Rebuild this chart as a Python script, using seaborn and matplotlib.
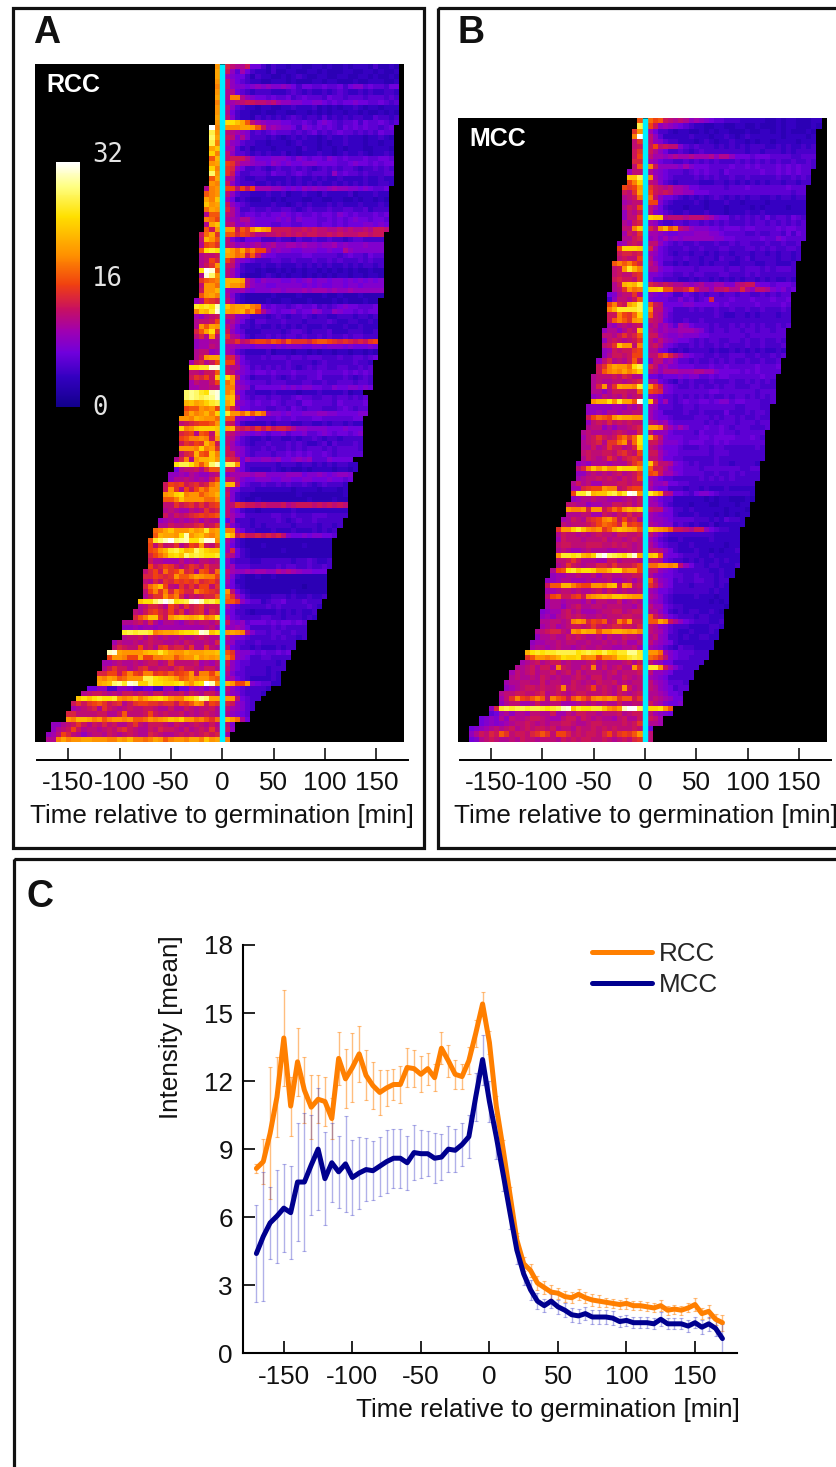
import numpy as np
import pandas as pd
import seaborn as sns
import matplotlib.pyplot as plt
from matplotlib.colors import LinearSegmentedColormap
from matplotlib.patches import Rectangle
from matplotlib.transforms import Affine2D

# each row: cells before germination | cells after, one base-33 digit per cell (0..w = 0..32)
rcc_rows = [
"k|ecbbd77535443443344343343444353343",
"l|d96a754435334433443433344334434334",
"l|a877535443343454334433443344343343",
"k|c976544334443433344344333433444334",
"j|c988789898898757766766757886766577",
"k|bb76545554445654544545654454544554",
"l|bjjb987767667567666576656665666565",
"j|aabcddccbca99887788767677877667656",
"k|c965443443344544453434344543443444",
"k|b754433433443344343434434434334343",
"l|c854435454545654554645454554465545",
"k|ppnlhca988877667657876566757667656",
"wj|kkkllkhd9a98875876767657676766567",
"rk|cba985656766656567565676656565766",
"sl|dc8b85554543454544345445444344543",
"rj|b98655443444345444343445444344344",
"ln|aa6453444344443544344343444334443",
"oj|c96654545445343444544345445434454",
"hm|cdddb9777888768767768767666766776",
"kl|gfcaa9887987877888777766787767677",
"oj|fe9755654565565654565656654556565",
"sk|fd7556665766567656665967665655566",
"hl|bb6544554444545445454454444544544",
"kj|d96555445454545454544545454544554",
"bjk|ggcgdgaaa998787989889a9988787667",
"hjk|c9655444544534454435444453444544",
"ljn|a7454334434344433443344334344343",
"nkl|d9765444454434545444545444544454",
"ilk|eb855655655665456555655665564555",
"bhh|cb867767677876766767768767666767",
"jig|ba9bb877778786877766767678776776",
"bln|cc99a877766776677767767677788787",
"hdk|kkdhfknlkddddccdcdccbbcbcbbcbddc",
"dilf|hhegfdbbccdcdcdcddccdcdcccddcdd",
"cmkh|c865777555655465565565545665555",
"bghf|cb9a9ab9ab99aa9a99899a898889888",
"hpqp|mkilhjggb89887788877877b9888888",
"bccd|lkijdhc877666667766666567665766",
"bcge|gd98765556655655565565655565655",
"bdfk|dc85444544544454545454454545545",
"pwvh|ca75443433434343443434343433433",
"bvsk|ca74333454343443434343443443443",
"fhij|mmmlb97988877878978878878787878",
"ckki|mkkjb98877888887878778878878888",
"dkkm|a99a87888998999a9aaa9a99a999999",
"hklj|b854333334333343333433433343333",
"9bgfe|c95433334334433343333434333433",
"qpqpu|nkllmji76766567667565678776667",
"jnmqv|lklmikgb8767786779866987767677",
"a9bcd|cc9875554565455654554455545545",
"bccdg|ab9754665556555455556544554454",
"bkhlk|ca7554544545454544454445445444",
"ehlpf|d97644455554566545556444555445",
"cebkc|fba754556565665655656556566555",
"9aabb|ddfcdfggfhgehfffeghhgfefededfg",
"9aacb|aa9887888787888778878887877787",
"bcc9a|a96544445344434434344344344343",
"bdkll|eea755565666566566655565566567",
"adebdg|gga76555555565555456555556554",
"ppqqvv|dbb87565656565456566556655656",
"ccbddh|dc987677676667666676666767676",
"dfegdn|pkc76455565456556675555654565",
"acbbdg|ik987666566655566556556665665",
"aabbcc|jja98577777878788776687788787",
"stsqpuv|jl9755444544443444544445344",
"stsrstv|mnc7656656655676655665665656",
"mnlmoqr|ln98767667656657766665766667",
"ghhkjkg|iea7766655665765666555676566",
"iljkmjo|qkkilhki98878778889988777788",
"kkjmlkki|hh9877666676676667766666677",
"cdefgghk|dd8544445455544554454554544",
"ojknooon|lmededfdfdeedb9988887778777",
"efgbhgcm|dca987876778677866787677678",
"ghjjkjdk|cb8654454554454556545545555",
"dfegfmjd|ca7654556555656544564655565",
"kkkjojkf|da9865565655656566656566665",
"cefmhgnj|dd9865666566767676676566666",
"bejbkmmnk|fed7a88998977898966687777",
"prrplhlsu|rrk75555554555455454545544",
"7bccdbehh|dd975444454343343444434434",
"99a9ba99bc|9aaaa9aa88889997889878998",
"9bbcbabadg|cca8778887788778877787767",
"dgfgdefdeik|mmc765565565655654565554",
"dkfbgdgjhkk|c87555444444434444344434",
"klopjkkhjkm|d85443333333334333333334",
"hhjnkkkkiik|c85433433333333343333433",
"ccfdefdfdfg|ccfeddcdcccdbcdddcdcdcdc",
"bcbaacbcfde|c97544344444454444444444",
"dbdcdefgfgh|ca8755555665565556665555",
"9abababcacbb|7a555455556545655655555",
"bbdccddefcdf|c8655454555554555545545",
"ijlnkkkmklqkl|jj97554445444544454545",
"hmllkpukmnkjl|pmdfddededec8778788776",
"hqsuwstuppsvvk|b85433333333333333333",
"gcfcdfbdgfkdcf|a75433343333333433333",
"ghkmqrpmnsqonn|ae7543333334333333333",
"egikopnsqrqppq|cb7543333333333333333",
"dbbaaacabaccbc|965554455555545565445",
"gdegfdbdfecfdd|9a6665555565665565565",
"cegdifgjefbhgdi|ca99a9aa99baba988777",
"eegfefkhhjlkjjg|b8543343343333333333",
"cbecfegfgfhefge|a7443333333333333333",
"eikngcbfdfdggcf|97543333333333323333",
"cgjfjeigeejhgfe|kc754333333334333333",
"bdffkhjebdcdeeh|ifa75444455545445445",
"nppsuwupqrvwuqrp|hhf9766456675556555",
"bceedbgecfdefcdd|a765555565655555654",
"cbdfgedgdfbdefbed|875543444454545445",
"ehjnnfdkmnmlmojkp|a76555566554555454",
"bbcdbeb9bba9bcbccbd|d989677767677676",
"99a9aa9aaaaaaaaabca|a9a9755556565555",
"qrqrrqjkllmoppqvunp|klkjb86656655655",
"bccdbdcbcbbcbbcdcbb|c987655556565545",
"acbbcbcdccbbcbdcbbcbe|a9665565555555",
"cedccgcdbfgdeecfbbfcb|c7655454445455",
"uvlkkkkmnnqnlkkmlllmmn|hf98876766767",
"gkkjgglggjjkkhjkknklkl|jg98755665555",
"aabcbbcbcddbcfccccdabac|d97665555545",
"bdfddbcefccddcefddcbddb|c97655554555",
"eeggdgjgfjjfgfhfghkdjjgk|b8665555454",
"kjlkhikkkrrponmkhikjkkih|aa765444454",
"lmnstqvuoorppoopqmkopwuk|mkggk876644",
"77995599866775599577a9a8a7|c97655554",
"bcddcbcbddcdcbddbccdbdcbddb|b9865554",
"npnpqppqkjkmjlnopnkjjnoqtsll|kkc7655",
"dfdfghfdefbdfggffeffdgfhkjdgf|ed9865",
"abcdebfdcbcdccddcbbdbbdcbccdb|ca9865",
"eeccccddbbdhcccdgdcdccdbcbcdcb|b9876",
"kjmmljkhjkkjkhhikjklnmokkijhfi|mkib7",
"99bcdfdbdcecdbbdfcbdddcbdcbcdcbdb|c8",
"9bcdgdbccbcdcefdcbbdceddcbdbcdcfc|d9",
"9acgecb9bccbdcbcdcbbedcbbcdcdcdede|a",
"bbjljkkllkkkjjlkmjjijlkhjkkjlljnkl|j",
]

mcc_rows = [
"h|ighdcbcb9a987665554444433434433344",
"r|gd9a987654433443344334333434433343",
"fk|a75543443343434433343344343433343",
"jw|c96444445444344543454444443444434",
"cf|c98655444345434454434344344443444",
"cd|dgcdcc865655545454545554454544545",
"df|db9755654565555555545545554545555",
"dg|caa9abaabaaab9bb97776777666655666",
"ee|a97665565656565556565656565565565",
"ch|jd99998a8777666676676766676767665",
"9cc|b9876665676766576666667667676766",
"nnr|ja876555565656556556555556556565",
"gjo|cb865455554445545454545455455455",
"gfgk|fdcbcaa977666665666766666667666",
"dcfl|gdcdcaa99777666666666666666656 6",
"bcdi|ic97765454545654545455445455455",
"abcc|gg86544445434445443444434444444",
"bdcg|ca75444344434443444434344443444",
"9cbd|c876544544454443444544544444444",
"9ccg|onnbcccbcccba877565656575665765",
"bade|a965566566565656555656656565656",
"ccjn|ecjmhjcb98887767776776666767766",
"adcf|aa98778889998876666556556657576",
"bbde|9a8a8989999998877666667668766 66",
"9acdc|cc9765655655565565665556556556",
"gooon|ea7655565565556655566565655665",
"deede|a97654554554545545554554545545",
"cdccg|b87665565545546554564555545545",
"hjhjge|ca755454554545554455544 554445",
"cdkqmj|bb877666656666656656665656665",
"cdccef|88766556566555665556565555555",
"deddcf|86655544545545454545545454454",
"bdmnmq|edcdcbba9ab99aa88bcdd87767776",
"bcfkij|nnohhddehdbb9ccdbbeb9ccb87867",
"78bccfb|9878755765656656656655656566",
"59ccbdh|877766867567e666766676667667",
"gjedlnr|hdc7777887777767666667666676",
"jmqqqqr|kcc8755565655655655655655565",
"ddjgfio|hcb8655555555654455454555455",
"dhjhfkl|dcb7655655655555555555555555",
"a9bcbcd|bc9a86a976665655656565655656",
"9bb9bdcm|cb9a99aaa986566566566566566",
"ccbdfdeh|dda988988877666666656666666",
"9cdcbcdf|caca98776565665566565565565",
"cdfnkkcj|cdb876556565565655565565556",
"9adcddfg|bb8754545555454454545454454",
"9bddcdgg|ccfheca87665565566655655656",
"9cebcbdhd|9cc9a86656556565655655655 6",
"dfjlkkipr|ec9a8877766676676666676667",
"dhjkjljlo|cb9bbbaaabbaa8777767676666",
"bcccdcedbb|7767778788667677666666766",
"bcbbccbcde|bb76546565556555655656565",
"bekcflkkjq|kgd8765565655656655566555",
"bb9bdddcch|gfe8766666667766666665666",
"9acbcbdbcd|a976656565656556566565656",
"kmmpkqllhv|nc7a656766776788677666556",
"99999aa9bac|a96665566566666665566655",
"99a9bbabbcc|a87555565565555755565665",
"dgihgkmllkk|a87765555666565665655655",
"9cdcecdcdcc|cb9a76666665656665666566",
"bcc9b9bbcde|lljca8a86667667656665556",
"bcbbbbcdcbbe|c9997666657666766566666",
"acdfdcdgifip|lfc87776667767777666765",
"bcdebffikdip|ddb88876777667676666666",
"bbdbcfddbcen|cb977765556656655555565",
"cdccddcefdcg|dda87766666656665555555",
"bdcbcfdbdefe|cca77665555556555555555",
"9a9bbbabbbdfh|nfccb87656555655455554",
"cejnknkkpoook|hddb977666566666665566",
"99bcbcbcdbcdf|ghdaa87666655655656555",
"abccdcdcbdcdg|a976655555656565655555",
"bdbcaacccddcdd|b99a77665555555555555",
"aaefggkjjcdfgg|a87755545545444544444",
"gqqtmnnqrnqwvk|qnkcb7765788765555554",
"9abbcbbaaabcbd|a97664444443434433343",
"ccbb9aabbddcdbd|aa865444344433444344",
"kjjkekkdfigkmln|dcc87554544444434443",
"bbbccaadcbdcecd|a9877544454443434344",
"abdcbefgjkhdgdeb|a998766665554546554",
"cbcccdegihgekfgf|ba9885654544534444 4",
"fkkoqnkjkfhlnmlkh|nlkjhddcbdd9765544",
"bdccbcbcdccbddccd|ca8655555555544444",
"adcccbcccdbccbcdc|a86544544444544444",
"cddcccdddccdcdcbc|b97655445444444344",
"bcbaabcbbbaabbcbc|ccb975444544343445",
"kqqpqmlouwsrqpsvl|noh877655544544444",
"ccdfdbbbaaddbcccb|ccb765545454454544",
"bcfdcbcceedfdddeg|iikkjkc97554554445",
"bghpqnppokkmppjkkg|cc987655555544544",
"9aabbcbbcaccbbccdd|b9877665565554544",
"99abbaaababbcaabcac|hc98756556655455",
"dhhmmjhggkkjmndkjcd|fda8755545555454",
"aabccbcbbcdbdcbcbbc|a977655555554544",
"cghddfgdjklmlnnmlkk|ba86544445444344",
"abbabbbacaccbbdabcb|a986544444443434",
"abb9bcdbbccbcccbbac|caa7655444444443",
"89aacdbcaaabccddbcdd|bb9754545544543",
"9a9bcdcdcbbcbcccddcc|hdb976555455444",
"bbccbcjkjegfhcdjgkdd|hhljdb976555445",
"abcabcddcdfdcdeeddce|cb9865554444554",
"bcdeecbkjmllhkkmmlklj|cba86544544454",
"9bbcbbdcdcbbcacbbdccb|bc985545445544",
"9aabbcbccbbcbbcbcbcaac|ca98754444444",
"abbabcbbabcbbcbbaabbca|a986546554444",
"mpqpqqrrrrpqrqprpoqqttq|kkia87666555",
"fhkkjkmpoopjkkgjjkooqrq|ihfc87665555",
"abcdbcddbcbbbcdbcbbbcdbd|ca977555555",
"bbcdbddbjdcbbdcjbdbcdbbkf|qqkda86555",
"acbcdbccdbcdbdbcccbcdbcccd|c99875555",
"bcbbcbdcbcbbcdcbddbcbbdcbc|a98755555",
"abbccbbdbccbbdcbcbdccdbcbcc|ca986665",
"9abcddcdccdjcdccdgcdcbdkdbc|cb987566",
"bccddccdebcdcbcddcccdcbdcbcd|bba9776",
"acfjgfhjhcjhgdhjhfjkjkjfhhdf|bcba977",
"9bccaabdbbccaaabcbcbcbbdbbcc|dba8778",
"9eqrqrrqrrqpqruvnqppqqnkjluwwr|oopkh",
"67ab9bbaccbbdaacbddccbcccdbcdd|ca987",
"7898b9cbbcddcbaacddbdcbcbbacdbbd|dca",
"78989abccdcbcbccddcbbcddccccdcdf|bba",
"789abcbcdbcdcddcdbccbdccdcdcdcccdc|7",
"9bdcedhfcddcefhfcggecdcddcegdfgfhk|c",
"78bcdcbbcbdccbcccbdcdcddccdcbcdcef|c",
]

time_min = list(range(-170, 175, 5))
rcc_mean = [8.15, 8.45, 9.7, 11.3, 13.9, 10.9, 12.85, 11.6, 10.85, 11.2,
            11.1, 10.35, 13.0, 12.1, 12.6, 13.2, 12.25, 11.8, 11.5, 11.7,
            11.85, 11.85, 12.6, 12.55, 12.3, 12.55, 12.15, 13.45, 12.9, 12.3,
            12.2, 12.9, 14.1, 15.4, 13.7, 10.9, 9.0, 7.0, 5.0, 3.95,
            3.65, 3.1, 2.9, 2.7, 2.65, 2.5, 2.45, 2.6, 2.45, 2.35,
            2.3, 2.25, 2.2, 2.15, 2.2, 2.1, 2.1, 2.05, 2.0, 2.1,
            1.9, 1.95, 1.9, 2.0, 2.15, 1.75, 1.85, 1.5, 1.35]
mcc_mean = [4.4, 5.15, 5.75, 6.05, 6.4, 6.2, 7.55, 7.55, 8.3, 9.0,
            7.7, 8.4, 8.0, 8.35, 7.75, 7.95, 8.1, 8.05, 8.25, 8.45,
            8.6, 8.6, 8.4, 8.85, 8.8, 8.8, 8.6, 8.65, 9.0, 8.95,
            9.2, 9.55, 11.3, 12.95, 11.1, 9.55, 7.9, 6.2, 4.55, 3.5,
            2.8, 2.3, 2.1, 2.3, 2.05, 1.9, 1.7, 1.65, 1.75, 1.6,
            1.6, 1.6, 1.55, 1.4, 1.45, 1.35, 1.35, 1.35, 1.3, 1.5,
            1.3, 1.3, 1.3, 1.2, 1.35, 1.15, 1.3, 1.1, 0.65]
rcc_err = [.2, 1.0, 2.9, 1.75, 2.1, 1.3, 1.5, 1.45, 1.4, 1.05,
           1.1, .9, 1.15, 1.3, 1.5, 1.25, 1.1, 1.05, 1.0, .8,
           .7, .8, .85, .8, .8, .7, .6, .7, .7, .65,
           .55, .6, .6, .55, .5, .45, .4, .35, .3, .3,
           .3, .3, .3, .3, .25, .25, .25, .25, .25, .25,
           .25, .2, .2, .2, .25, .2, .2, .2, .2, .25,
           .2, .2, .2, .2, .3, .25, .3, .25, .35]
mcc_err = [2.15, 2.85, 1.6, 2.05, 1.95, 2.05, 2.6, 3.05, 2.2, 2.7,
           2.05, 1.75, 1.6, 2.1, 1.65, 1.6, 1.4, 1.3, 1.3, 1.4,
           1.3, 1.3, 1.2, 1.2, 1.05, 1.0, 1.1, 1.0, 1.0, .95,
           .95, .95, 1.05, 1.1, .9, 1.0, .75, .7, .6, .5,
           .45, .35, .3, .3, .3, .3, .3, .3, .3, .3,
           .3, .3, .3, .25, .25, .25, .25, .25, .25, .3,
           .25, .25, .25, .25, .25, .3, .3, .35, .65]

heat_ticks = [-150, -100, -50, 0, 50, 100, 150]
heat_ticklabels = ['-150', '-100', '-50', '0', '50', '100', '150']
line_xticks = [-150, -100, -50, 0, 50, 100, 150]
line_yticks = [0, 3, 6, 9, 12, 15, 18]
cbar_labels = ['32', '16', '0']
xlabel = 'Time relative to germination [min]'

W, H = 837, 1467
ZERO_COL = 36
N_COLS = 72
TEXT_SIZE = 18.7

sns.set_theme(style='ticks')
plt.rcParams['font.family'] = ['Liberation Sans', 'DejaVu Sans']

fire = LinearSegmentedColormap.from_list('fire', [
    (0.00, '#12008c'), (0.12, '#3300c0'), (0.22, '#7000dc'), (0.31, '#a000b0'),
    (0.40, '#c8105f'), (0.50, '#f04010'), (0.62, '#ff9000'), (0.78, '#ffe000'),
    (0.90, '#ffff80'), (1.00, '#ffffff')])


def px_axes(left, top, right, bottom):
    return fig.add_axes([left / W, 1 - bottom / H, (right - left) / W, (bottom - top) / H])


def rows_to_frame(rows):
    m = np.full((len(rows), N_COLS), np.nan)
    for i, row in enumerate(rows):
        pre, post = row.replace(' ', '').split('|')
        for j, ch in enumerate(pre):
            m[i, ZERO_COL - len(pre) + j] = int(ch, 33)
        for j, ch in enumerate(post[:N_COLS - ZERO_COL - 1]):
            m[i, ZERO_COL + 1 + j] = int(ch, 33)
    return pd.DataFrame(m)


def draw_heat(rows, rect, axis_rect, zero_x, name, cbar_ax=None):
    ax = px_axes(*rect)
    ax.set_facecolor('black')
    sns.heatmap(rows_to_frame(rows), ax=ax, cmap=fire, vmin=0, vmax=32,
                xticklabels=False, yticklabels=False,
                cbar=cbar_ax is not None, cbar_ax=cbar_ax)
    ax.axvline(ZERO_COL + 0.5, color='#00f0ff', lw=3.9, solid_capstyle='butt')
    ax.set_xlabel('')
    ax.set_ylabel('')
    ax.text(rect[0] + 11, rect[1] + 21, name, color='white', fontsize=18, fontweight='bold',
            va='center', transform=pixel)

    # separate time axis below the image
    ta = px_axes(*axis_rect)
    ta.patch.set_alpha(0)
    scale = 51.33 / 50
    ta.set_xlim((axis_rect[0] - zero_x) / scale, (axis_rect[2] - zero_x) / scale)
    ta.set_yticks([])
    ta.set_xticks(heat_ticks, heat_ticklabels)
    ta.tick_params(axis='x', direction='in', length=8.6, width=1.1, pad=8.5, labelsize=TEXT_SIZE,
                   color='black', labelcolor='#111111')
    sns.despine(ax=ta, left=True)
    ta.spines['bottom'].set_linewidth(1.4)
    ta.spines['bottom'].set_color('black')
    return ax


fig = plt.figure(figsize=(W / 100, H / 100), dpi=100, facecolor='white')
# pixel coords measured from the top left of the picture
pixel = Affine2D().scale(1, -1).translate(0, H)

# panel frames
for x0, y0, x1, y1 in [(13, 8, 424, 848), (438, 8, 860, 848), (14, 859, 860, 1490)]:
    fig.add_artist(Rectangle((x0, y0), x1 - x0, y1 - y0, transform=pixel, fill=False,
                             edgecolor='#111111', lw=2.3))

cax = px_axes(56, 162, 80, 407)
draw_heat(rcc_rows, (35.3, 64, 404, 742), (36.7, 747, 408, 759.5), 222.3, 'RCC', cbar_ax=cax)
draw_heat(mcc_rows, (458.3, 118.3, 826.7, 741.7), (460, 747, 830.7, 759.5), 645, 'MCC')
cax.set_yticks([])
for spine in cax.spines.values():
    spine.set_visible(False)
cax.set_zorder(5)
for lab, y in zip(cbar_labels, [155, 279, 408]):
    fig.text(92 / W, 1 - y / H, lab, color='#e4e4e4', fontsize=18.5, family='DejaVu Sans Mono',
             va='center', ha='left', zorder=6)

fig.text(222.3 / W, 1 - 816 / H, xlabel, fontsize=TEXT_SIZE, ha='center', va='center', color='#111111')
fig.text(645.5 / W, 1 - 816 / H, xlabel, fontsize=TEXT_SIZE, ha='center', va='center', color='#111111')

# panel C
ax = px_axes(242.7, 945, 736.7, 1353.3)
ax.set_facecolor('none')
ax.errorbar(time_min, rcc_mean, yerr=rcc_err, fmt='none', ecolor='#ff7f00', alpha=0.5,
            elinewidth=1.0, capsize=1.2, capthick=0.8, zorder=2)
ax.errorbar(time_min, mcc_mean, yerr=mcc_err, fmt='none', ecolor='#2020c0', alpha=0.35,
            elinewidth=1.0, capsize=1.2, capthick=0.8, zorder=2)
sns.lineplot(x=time_min, y=rcc_mean, ax=ax, color='#ff7f00', lw=3.6, label='RCC', zorder=3,
             solid_joinstyle='round', solid_capstyle='round')
sns.lineplot(x=time_min, y=mcc_mean, ax=ax, color='#00008f', lw=3.6, label='MCC', zorder=4,
             solid_joinstyle='round', solid_capstyle='round')
ax.set_xlim(-180, 180.4)
ax.set_ylim(0, 18)
ax.set_xticks(line_xticks, [str(t) for t in line_xticks])
ax.set_yticks(line_yticks)
ax.tick_params(direction='in', length=8.6, width=1.2, labelsize=TEXT_SIZE, color='black', labelcolor='#111111')
ax.tick_params(axis='x', pad=8.5)
ax.tick_params(axis='y', pad=7)
sns.despine(ax=ax)
for side in ['left', 'bottom']:
    ax.spines[side].set_linewidth(1.5)
    ax.spines[side].set_color('black')
ax.legend(loc='upper left', bbox_to_anchor=(592 / W, 1 - 942 / H), bbox_transform=fig.transFigure,
          frameon=False, fontsize=TEXT_SIZE, handlelength=2.3, handletextpad=0.27, labelspacing=0.28,
          borderpad=0, borderaxespad=0)
fig.text(548 / W, 1 - 1410 / H, xlabel, fontsize=TEXT_SIZE, ha='center', va='center', color='#111111')
fig.text(171 / W, 1 - 1027 / H, 'Intensity [mean]', fontsize=TEXT_SIZE, rotation=90, ha='center', va='center',
         color='#111111')

for lab, x, y in [('A', 33, 43), ('B', 458, 43), ('C', 27, 907)]:
    fig.text(x / W, 1 - y / H, lab, fontsize=27, fontweight='bold', ha='left', va='baseline', color='#111111')

fig.savefig('out.png', dpi=100)
